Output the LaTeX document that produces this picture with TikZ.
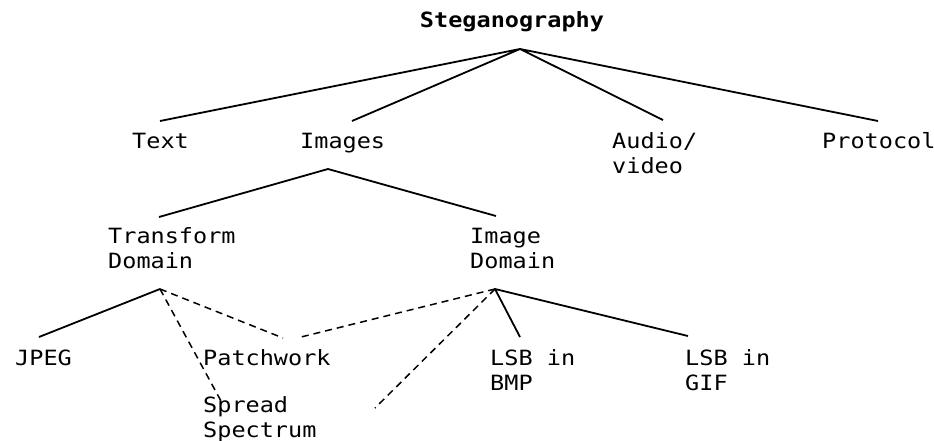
\documentclass[tikz,border=0pt]{standalone}
\usepackage{fontspec}
\newfontfamily\labfont[FakeStretch=1.12]{DejaVu Sans Mono}
\begin{document}
\begin{tikzpicture}[x=1pt,y=-1pt,
  lab/.style={anchor=base west, inner sep=0pt, align=left,
              font=\labfont\fontsize{21}{25}\selectfont},
  rootlab/.style={anchor=base, inner sep=0pt,
              font=\labfont\bfseries\fontsize{21}{25}\selectfont},
  edge/.style={line width=1.8pt, line join=round},
  dedge/.style={line width=1.5pt, dash pattern=on 7pt off 5pt}]
\useasboundingbox (0,0) rectangle (934,441);

% labels (multi-line nodes are placed by the baseline of their last line)
\node[rootlab] (root) at (512,28) {Steganography};
\node[lab] (text) at (132,148) {Text};
\node[lab] (images) at (300,148) {Images};
\node[lab] (audio) at (612,173) {Audio/\\video};
\node[lab] (protocol) at (822,148) {Protocol};
\node[lab] (transform) at (108,268) {Transform\\Domain};
\node[lab] (imagedom) at (470,268) {Image\\Domain};
\node[lab] (jpeg) at (15,365) {JPEG};
\node[lab] (patch) at (203,365) {Patchwork};
\node[lab] (bmp) at (490,390) {LSB in\\BMP};
\node[lab] (gif) at (685,390) {LSB in\\GIF};
\node[lab] (spread) at (203,437) {Spread\\Spectrum};

% junction points and connector ends
\coordinate (rootjoin) at (520,49);
\coordinate (textend) at (160,121);
\coordinate (imagesend) at (352,121);
\coordinate (audioend) at (663,120);
\coordinate (protocolend) at (878,121);

\coordinate (imagesjoin) at (328,169);
\coordinate (transformend) at (159,217);
\coordinate (imagedomend) at (496,216);

\coordinate (transformjoin) at (160,289);
\coordinate (imagedomjoin) at (495,289);
\coordinate (jpegend) at (39,337);
\coordinate (patchendL) at (283,338);
\coordinate (patchendR) at (297,338);
\coordinate (spreadend) at (221,401);
\coordinate (freeend) at (375,408);
\coordinate (bmpend) at (520,337);
\coordinate (gifend) at (688,336);

% connectors
\draw[edge] (textend) -- (rootjoin) -- (imagesend);
\draw[edge] (audioend) -- (rootjoin) -- (protocolend);
\draw[edge] (transformend) -- (imagesjoin) -- (imagedomend);
\draw[edge] (jpegend) -- (transformjoin);
\draw[dedge] (transformjoin) -- (patchendL);
\draw[dedge] (transformjoin) -- (spreadend);
\draw[dedge] (imagedomjoin) -- (patchendR);
\draw[dedge] (imagedomjoin) -- (freeend);
\draw[edge] (bmpend) -- (imagedomjoin) -- (gifend);
\end{tikzpicture}
\end{document}
